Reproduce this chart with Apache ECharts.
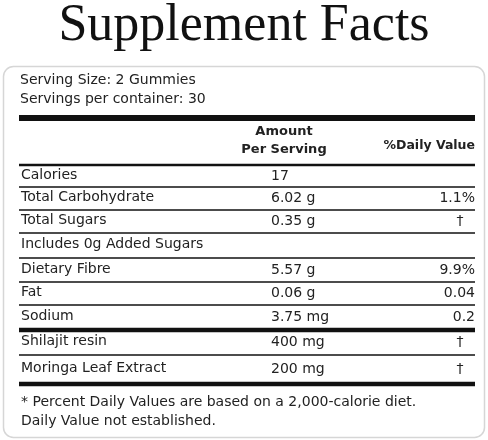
<!DOCTYPE html><html><head><meta charset="utf-8"><script src="https://cdn.jsdelivr.net/npm/echarts@6/dist/echarts.min.js"></script>
<style>html,body{margin:0;padding:0;background:#fff}#c{width:488px;height:440px}</style></head><body><div id="c"></div><script>
const title = "Supplement Facts";
const servingLines = ["Serving Size: 2 Gummies", "Servings per container: 30"];
const headerAmount = "Amount\nPer Serving";
const headerDV = "%Daily Value";
const nutrients = ["Calories","Total Carbohydrate","Total Sugars","Includes 0g Added Sugars","Dietary Fibre","Fat","Sodium","Shilajit resin","Moringa Leaf Extract"];
const amounts = ["17","6.02 g","0.35 g","","5.57 g","0.06 g","3.75 mg","400 mg","200 mg"];
const dailyValues = ["","1.1%","†","","9.9%","0.04","0.2","†","†"];
const footnotes = ["* Percent Daily Values are based on a 2,000-calorie diet.", "Daily Value not established."];

const F = '"DejaVu Sans", sans-serif';
const L = 19, R = 475, AX = 271;
const els = [];
els.push({type:'rect',shape:{x:3.5,y:66.5,width:481,height:371,r:10},style:{fill:'#fff',stroke:'#d6d6d6',lineWidth:1.5}});
els.push({type:'text',x:244,y:0,style:{text:title,font:'52px "Liberation Serif", serif',fill:'#111',align:'center',verticalAlign:'top'}});
servingLines.forEach((t,i)=>els.push({type:'text',x:L+1,y:80+i*19,style:{text:t,font:'14px '+F,fill:'#222',verticalAlign:'middle'}}));
function line(y,w){els.push({type:'rect',shape:{x:L,y:y-w/2,width:R-L,height:w},style:{fill:'#111'}});}
line(118,6);
els.push({type:'text',x:284,y:141,style:{text:headerAmount,font:'bold 13px '+F,fill:'#222',align:'center',verticalAlign:'middle',lineHeight:18}});
els.push({type:'text',x:R,y:146,style:{text:headerDV,font:'bold 12.5px '+F,fill:'#222',align:'right',verticalAlign:'middle'}});
line(165,2.5);
const seps=[187,210,233,258,282,305,330,355,384];
const tops=[165,187,210,233,258,282,305,330,355];
nutrients.forEach((n,i)=>{
  const y=(tops[i]+seps[i])/2-1;
  els.push({type:'text',x:L+2,y:y,style:{text:n,font:'14px '+F,fill:'#222',verticalAlign:'middle'}});
  els.push({type:'text',x:AX,y:y+1,style:{text:amounts[i],font:'14px '+F,fill:'#222',verticalAlign:'middle'}});
  els.push({type:'text',x:R,y:y+1,style:{text:dailyValues[i],font:'14px '+F,fill:'#222',align:dailyValues[i]==='†'?'center':'right',verticalAlign:'middle'},
    ...(dailyValues[i]==='†'?{x:R-15}:{})});
  const thick = (n==="Sodium"||i===nutrients.length-1);
  line(seps[i], thick?4.5:1.5);
});
footnotes.forEach((t,i)=>els.push({type:'text',x:L+2,y:402+i*19,style:{text:t,font:'14px '+F,fill:'#222',verticalAlign:'middle'}}));
const chart=echarts.init(document.getElementById('c'));
chart.setOption({animation:false,graphic:{elements:els}});
</script></body></html>
